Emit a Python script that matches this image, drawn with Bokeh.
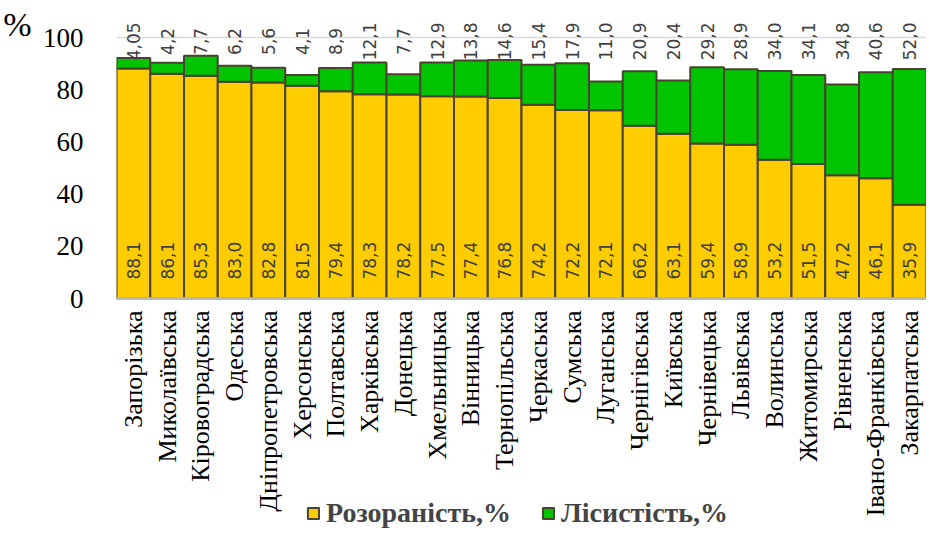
import math
from bokeh.plotting import figure
from bokeh.models import (FactorRange, Range1d, FixedTicker, Legend, LegendItem,
                          ColumnDataSource, LinearAxis, Span)
from bokeh.core.properties import value
from bokeh.embed import file_html
from bokeh.resources import INLINE

regions = ["Запорізька", "Миколаївська", "Кіровоградська", "Одеська", "Дніпропетровська",
           "Херсонська", "Полтавська", "Харківська", "Донецька", "Хмельницька", "Вінницька",
           "Тернопільська", "Черкаська", "Сумська", "Луганська", "Чернігівська", "Київська",
           "Чернівецька", "Львівська", "Волинська", "Житомирська", "Рівненська",
           "Івано-Франківська", "Закарпатська"]
plowed = [88.1, 86.1, 85.3, 83.0, 82.8, 81.5, 79.4, 78.3, 78.2, 77.5, 77.4, 76.8,
          74.2, 72.2, 72.1, 66.2, 63.1, 59.4, 58.9, 53.2, 51.5, 47.2, 46.1, 35.9]
forest = [4.05, 4.2, 7.7, 6.2, 5.6, 4.1, 8.9, 12.1, 7.7, 12.9, 13.8, 14.6,
          15.4, 17.9, 11.0, 20.9, 20.4, 29.2, 28.9, 34.0, 34.1, 34.8, 40.6, 52.0]
y_ticks = [0, 20, 40, 60, 80, 100]
series_names = ["Розораність,%", "Лісистість,%"]
unit_label = "%"

YELLOW = "#FFCC00"
GREEN = "#00C400"
EDGE = "#4A4331"

W, H = 926, 529
LEFT = 105
ZERO_PX = 298          # pixel row of value 0 from the top
PX_PER_UNIT = 2.61
y_top = ZERO_PX / PX_PER_UNIT
y_bottom = -(H - ZERO_PX) / PX_PER_UNIT

src = ColumnDataSource(dict(
    region=regions, plowed=plowed, forest=forest,
    plow_lbl=[str(v).replace(".", ",") for v in plowed],
    forest_lbl=[str(v).replace(".", ",") for v in forest],
    plow_y=[14.5] * len(regions),
    forest_y=[98.5] * len(regions),
    cat_y=[-12 / PX_PER_UNIT] * len(regions),
))

p = figure(width=W, height=H, x_range=FactorRange(*regions, range_padding=0),
           y_range=Range1d(y_bottom, y_top), output_backend="svg", toolbar_location=None,
           min_border_left=LEFT, min_border_right=0, min_border_top=0, min_border_bottom=0)
p.outline_line_color = None
p.background_fill_color = "white"
p.xaxis.visible = False

r = p.vbar_stack(["plowed", "forest"], x="region", width=1.0, source=src,
                 fill_color=[YELLOW, GREEN], line_color=EDGE, line_width=2)

# axis base line
p.add_layout(Span(location=0, dimension="width", line_color="#bfbfbf", line_width=2.5))

p.text(x="region", y="plow_y", text="plow_lbl", source=src, angle=math.pi / 2,
       text_align="center", text_baseline="middle", text_font=value("DejaVu Sans"),
       text_font_size="17px", text_color="#404040")
p.text(x="region", y="forest_y", text="forest_lbl", source=src, angle=math.pi / 2,
       text_align="center", text_baseline="middle", text_font=value("DejaVu Sans"),
       text_font_size="17px", text_color="#404040")

# category labels (reading bottom-to-top, ending just below the axis)
p.text(x="region", y="cat_y", text="region", source=src, angle=math.pi / 2,
       text_align="right", text_baseline="middle", text_font=value("Liberation Serif"),
       text_font_size="26px", text_color="black")

p.xgrid.visible = False
p.ygrid.ticker = FixedTicker(ticks=[100])
p.ygrid.grid_line_color = "#d9d9d9"
p.ygrid.grid_line_width = 1.5

p.yaxis.ticker = FixedTicker(ticks=y_ticks)
p.yaxis.axis_line_color = None
p.yaxis.major_tick_line_color = None
p.yaxis.minor_tick_line_color = None
p.yaxis.major_label_text_font = "serif"
p.yaxis.major_label_text_font_size = "27px"
p.yaxis.major_label_text_color = "black"
p.yaxis.major_label_standoff = 27

# "%" unit marker as a second left axis with one tick
pct_tick = 104.8
unit_axis = LinearAxis(ticker=FixedTicker(ticks=[pct_tick]),
                       major_label_overrides={pct_tick: unit_label},
                       axis_line_color=None, major_tick_line_color=None,
                       minor_tick_line_color=None, major_label_standoff=2,
                       major_label_text_font="serif",
                       major_label_text_font_size="34px",
                       major_label_text_color="black")
p.add_layout(unit_axis, "left")

legend = Legend(items=[LegendItem(label=series_names[0], renderers=[r[0]]),
                       LegendItem(label=series_names[1], renderers=[r[1]])],
                location=(190, 0), orientation="horizontal",
                label_text_font="Times", label_text_font_style="bold",
                label_text_font_size="28px", glyph_width=14, glyph_height=14,
                spacing=30, padding=0, margin=0, label_standoff=6,
                border_line_color=None, background_fill_alpha=0)
p.add_layout(legend, "center")

open("out.html", "w").write(file_html(p, INLINE))
